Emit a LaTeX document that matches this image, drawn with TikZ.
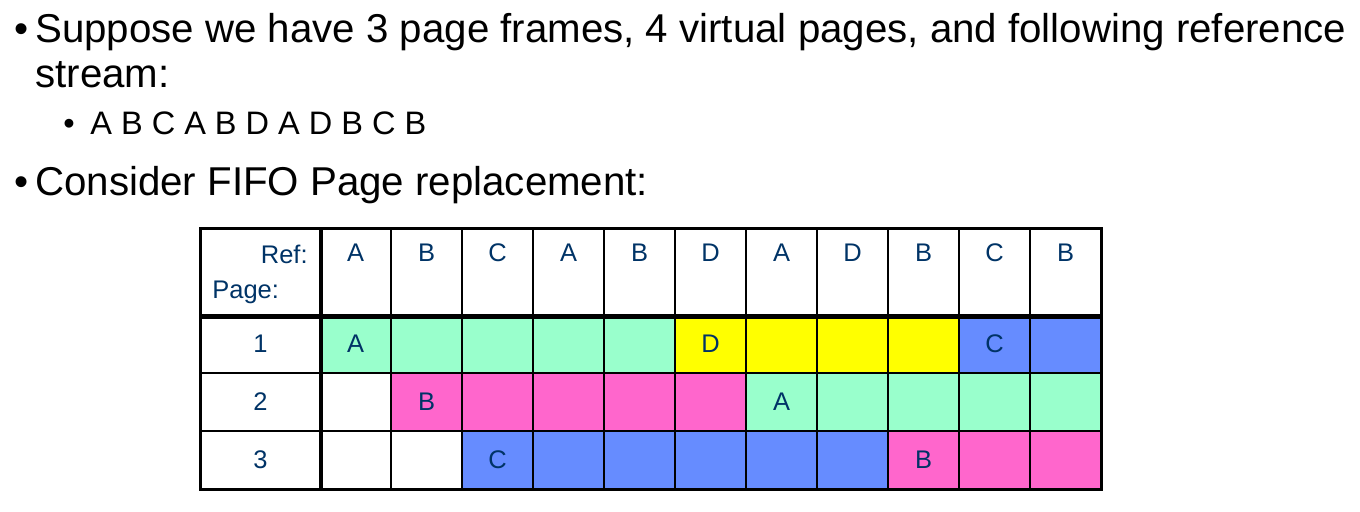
\documentclass[tikz,border=0pt]{standalone}
\usepackage{fontspec}
\setmainfont{Liberation Sans}
\definecolor{pagegreen}{HTML}{99FFCC}
\definecolor{pagepink}{HTML}{FF66CC}
\definecolor{pageblue}{HTML}{668CFF}
\definecolor{pageyellow}{HTML}{FFFF00}
\definecolor{refnavy}{HTML}{003366}
\newcommand{\cellw}{1.42cm}
\newcommand{\cellh}{1.16cm}
\newcommand{\gridline}{1.1pt}
\newcommand{\labelw}{2.38cm}

\begin{document}
\begin{tikzpicture}[
 cell/.style={draw, line width=\gridline, minimum width=\cellw, minimum height=\cellh, inner sep=0pt, text=refnavy, font=\fontsize{14.5pt}{17pt}\selectfont},
 headcell/.style={cell, anchor=north, text height=0.66cm, text depth=1.08cm},
 line/.style={anchor=base west, inner sep=0pt, font=\fontsize{22.9pt}{27pt}\selectfont},
 subline/.style={line, font=\fontsize{18.5pt}{22pt}\selectfont},
 tag/.style={inner sep=0pt, text=refnavy, font=\fontsize{14.5pt}{17pt}\selectfont}]
\useasboundingbox (0,0) rectangle (27.2,-10.22);
%text
\node[line] (bullet1) at (0.28,-0.86) {•};
\node[line] (line1) at (0.70,-0.86) {Suppose we have 3 page frames, 4 virtual pages, and following reference};
\node[line] (line2) at (0.70,-1.76) {stream:};
\node[subline] (bullet2) at (1.26,-2.70) {•};
\node[subline] (line3) at (1.80,-2.70) {A B C A B D A D B C B};
\node[line] (bullet3) at (0.28,-3.90) {•};
\node[line] (line4) at (0.70,-3.90) {Consider FIFO Page replacement:};
%header
\node[headcell, minimum width=\labelw] (page) at (5.21,-4.56) {};
\node[tag, anchor=base east] (reftag) at (6.16,-5.26) {Ref:};
\node[tag, anchor=base west] (pagetag) at (4.24,-5.96) {Page:};
\node[headcell] (r1) at (7.11,-4.56) {A};
\node[headcell] (r2) at (8.53,-4.56) {B};
\node[headcell] (r3) at (9.95,-4.56) {C};
\node[headcell] (r4) at (11.37,-4.56) {A};
\node[headcell] (r5) at (12.79,-4.56) {B};
\node[headcell] (r6) at (14.21,-4.56) {D};
\node[headcell] (r7) at (15.63,-4.56) {A};
\node[headcell] (r8) at (17.05,-4.56) {D};
\node[headcell] (r9) at (18.47,-4.56) {B};
\node[headcell] (r10) at (19.89,-4.56) {C};
\node[headcell] (r11) at (21.31,-4.56) {B};
%frame 1
\node[cell, minimum width=\labelw] (f1) at (5.21,-6.88) {1};
\node[cell, fill=pagegreen] (a1) at (7.11,-6.88) {A};
\node[cell, fill=pagegreen] (a2) at (8.53,-6.88) {};
\node[cell, fill=pagegreen] (a3) at (9.95,-6.88) {};
\node[cell, fill=pagegreen] (a4) at (11.37,-6.88) {};
\node[cell, fill=pagegreen] (a5) at (12.79,-6.88) {};
\node[cell, fill=pageyellow] (a6) at (14.21,-6.88) {D};
\node[cell, fill=pageyellow] (a7) at (15.63,-6.88) {};
\node[cell, fill=pageyellow] (a8) at (17.05,-6.88) {};
\node[cell, fill=pageyellow] (a9) at (18.47,-6.88) {};
\node[cell, fill=pageblue] (a10) at (19.89,-6.88) {C};
\node[cell, fill=pageblue] (a11) at (21.31,-6.88) {};
%frame 2
\node[cell, minimum width=\labelw] (f2) at (5.21,-8.04) {2};
\node[cell] (b1) at (7.11,-8.04) {};
\node[cell, fill=pagepink] (b2) at (8.53,-8.04) {B};
\node[cell, fill=pagepink] (b3) at (9.95,-8.04) {};
\node[cell, fill=pagepink] (b4) at (11.37,-8.04) {};
\node[cell, fill=pagepink] (b5) at (12.79,-8.04) {};
\node[cell, fill=pagepink] (b6) at (14.21,-8.04) {};
\node[cell, fill=pagegreen] (b7) at (15.63,-8.04) {A};
\node[cell, fill=pagegreen] (b8) at (17.05,-8.04) {};
\node[cell, fill=pagegreen] (b9) at (18.47,-8.04) {};
\node[cell, fill=pagegreen] (b10) at (19.89,-8.04) {};
\node[cell, fill=pagegreen] (b11) at (21.31,-8.04) {};
%frame 3
\node[cell, minimum width=\labelw] (f3) at (5.21,-9.20) {3};
\node[cell] (c1) at (7.11,-9.20) {};
\node[cell] (c2) at (8.53,-9.20) {};
\node[cell, fill=pageblue] (c3) at (9.95,-9.20) {C};
\node[cell, fill=pageblue] (c4) at (11.37,-9.20) {};
\node[cell, fill=pageblue] (c5) at (12.79,-9.20) {};
\node[cell, fill=pageblue] (c6) at (14.21,-9.20) {};
\node[cell, fill=pageblue] (c7) at (15.63,-9.20) {};
\node[cell, fill=pageblue] (c8) at (17.05,-9.20) {};
\node[cell, fill=pagepink] (c9) at (18.47,-9.20) {B};
\node[cell, fill=pagepink] (c10) at (19.89,-9.20) {};
\node[cell, fill=pagepink] (c11) at (21.31,-9.20) {};
%rules
\draw[line width=2.8pt] (page.south west) -- (r11.south east);
\draw[line width=2.8pt] (page.north east) -- (f3.south east);
\draw[line width=1.7pt] (page.north west) rectangle (c11.south east);
\end{tikzpicture}
\end{document}
